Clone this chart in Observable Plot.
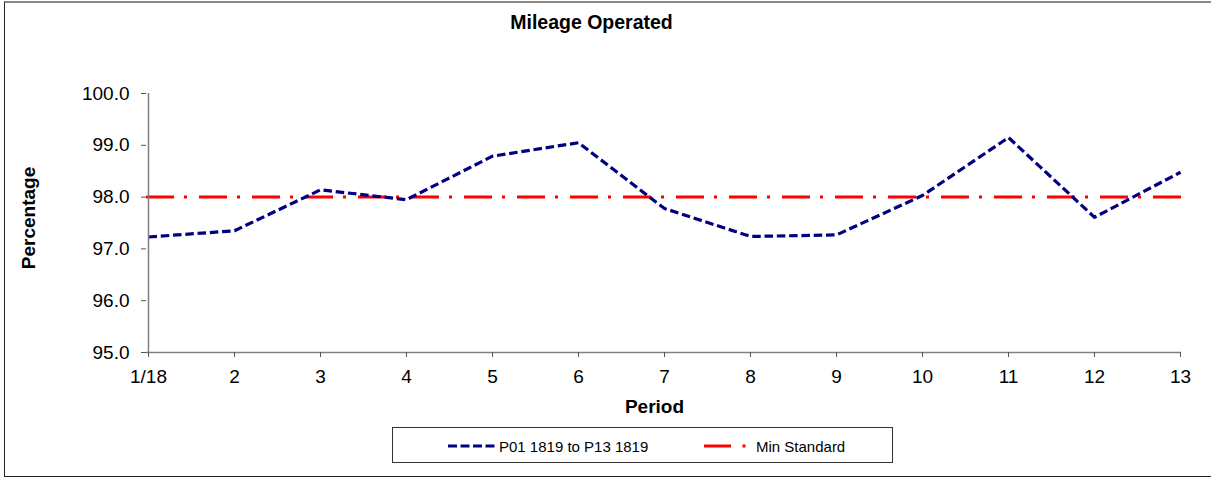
<!DOCTYPE html>
<html>
<head>
<meta charset="utf-8">
<script src="https://cdn.jsdelivr.net/npm/d3@7"></script>
<script src="https://cdn.jsdelivr.net/npm/@observablehq/plot@0.6"></script>
<style>
  html, body { margin: 0; padding: 0; background: #fff; overflow: hidden; }
  #wrap { position: relative; width: 1211px; height: 477px; font-family: "Liberation Sans", Arial, sans-serif; }
  #frame { position: absolute; left: 4px; top: 1px; width: 1230px; height: 473px;
           border-top: 2px solid #888; border-left: 1.5px solid #222; border-bottom: 1.5px solid #222; pointer-events: none; }
  #legend { position: absolute; left: 392px; top: 427px; width: 499px; height: 34px; border: 1.3px solid #333; background: #fff; }
</style>
</head>
<body>
<div id="wrap"><div id="frame"></div></div>
<script>
const periods = ["1/18","2","3","4","5","6","7","8","9","10","11","12","13"];
const mileage = [97.23, 97.35, 98.14, 97.95, 98.79, 99.05, 97.78, 97.24, 97.27, 98.03, 99.15, 97.61, 98.48];
const minStandard = 98.0;
const yTicks = [95, 96, 97, 98, 99, 100];
const seriesNames = ["P01 1819 to P13 1819", "Min Standard"];

const data = periods.map((p, i) => ({period: p, value: mileage[i]}));
const font = "Liberation Sans, Arial, sans-serif";

const chart = Plot.plot({
  width: 1211,
  height: 477,
  marginLeft: 146,
  marginRight: 30,
  marginTop: 93,
  marginBottom: 125,
  style: {fontFamily: font, fontSize: "19px", background: "transparent", overflow: "visible"},
  x: {type: "point", domain: periods, padding: 0},
  y: {domain: [95, 100]},
  marks: [
    Plot.ruleY([minStandard], {stroke: "#ff0000", strokeWidth: 3, strokeDasharray: "28,10,3,12"}),
    Plot.line(data, {x: "period", y: "value", stroke: "#000080", strokeWidth: 3.2, strokeDasharray: "8.5,3.8", strokeLinecap: "butt", strokeLinejoin: "round"}),
    Plot.ruleY([95], {stroke: "#808080", strokeWidth: 1.5}),
    Plot.ruleX([periods[0]], {stroke: "#808080", strokeWidth: 1.5}),
    Plot.axisY({ticks: yTicks, tickFormat: d => d.toFixed(1), tickSize: 5, tickPadding: 12, stroke: "#555", fill: "#000", fontSize: 19, label: null}),
    Plot.axisX({tickSize: 5, tickPadding: 12, stroke: "#555", fill: "#000", fontSize: 19, label: null}),
    Plot.text(["Mileage Operated"], {frameAnchor: "top", dx: 591 - (146 + 1181) / 2, dy: -93 + 29 - 14, fontWeight: "bold", fontSize: 19.5, fill: "#000", textAnchor: "middle", lineAnchor: "top"}),
    Plot.text(["Period"], {frameAnchor: "bottom", dx: 654 - (146 + 1181) / 2, dy: 413 - 352 - 14, fontWeight: "bold", fontSize: 19, fill: "#000", lineAnchor: "top"})
  ]
});
document.getElementById("wrap").appendChild(chart);
chart.style.position = "absolute";
chart.style.left = "0px";
chart.style.top = "0px";

// y-axis title overlay
const ylab = d3.create("svg").attr("width", 60).attr("height", 477)
  .style("position", "absolute").style("left", "0px").style("top", "0px");
ylab.append("text").attr("transform", "translate(35,218) rotate(-90)")
  .attr("text-anchor", "middle").attr("font-family", font).attr("font-size", 19)
  .attr("font-weight", "bold").text("Percentage");
document.getElementById("wrap").appendChild(ylab.node());

// legend
const leg = document.createElement("div");
leg.id = "legend";
const svg = d3.create("svg").attr("width", 499).attr("height", 34)
  .style("position", "absolute").style("left", "0px").style("top", "0px");
const ly = 18;
svg.append("line").attr("x1", 55).attr("x2", 103).attr("y1", ly).attr("y2", ly)
  .attr("stroke", "#000080").attr("stroke-width", 3.2).attr("stroke-dasharray", "9,3.5");
svg.append("text").attr("x", 106).attr("y", ly + 5.5).attr("font-family", font).attr("font-size", 15).text(seriesNames[0]);
svg.append("line").attr("x1", 311).attr("x2", 338).attr("y1", ly).attr("y2", ly)
  .attr("stroke", "#ff0000").attr("stroke-width", 3);
svg.append("line").attr("x1", 349.5).attr("x2", 352.5).attr("y1", ly).attr("y2", ly)
  .attr("stroke", "#ff0000").attr("stroke-width", 3);
svg.append("text").attr("x", 363).attr("y", ly + 5.5).attr("font-family", font).attr("font-size", 15).text(seriesNames[1]);
leg.appendChild(svg.node());
document.getElementById("wrap").appendChild(leg);
</script>
</body>
</html>
